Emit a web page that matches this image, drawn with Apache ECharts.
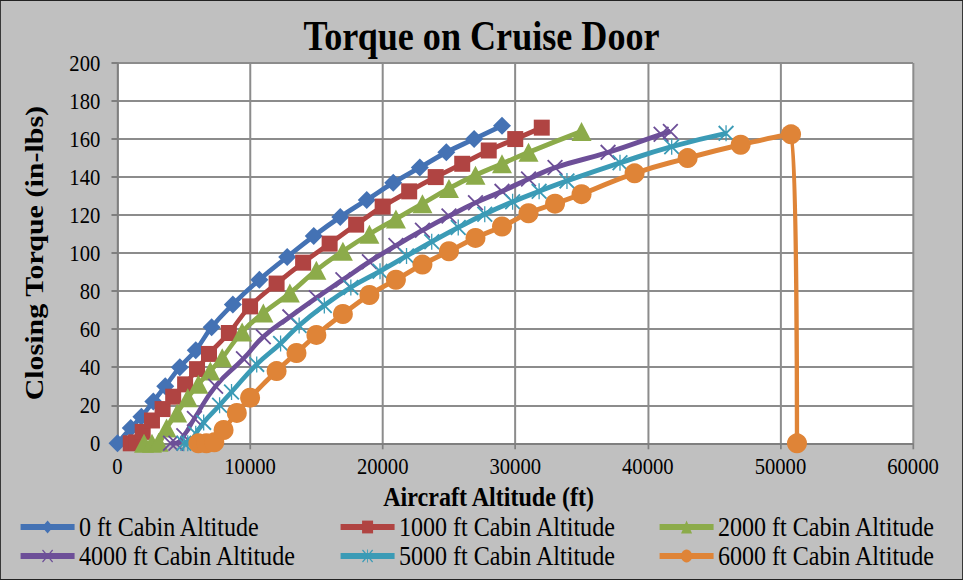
<!DOCTYPE html>
<html>
<head>
<meta charset="utf-8">
<script src="https://cdn.jsdelivr.net/npm/echarts@6/dist/echarts.min.js"></script>
<style>
  html, body { margin: 0; padding: 0; background: #c0c0c0; }
  #wrap { width: 963px; height: 580px; overflow: hidden; position: relative; }
  #chart { height: 580px; transform-origin: 0 0; }
</style>
</head>
<body>
<div id="wrap"><div id="chart"></div></div>
<script>
// Horizontal squeeze applied to the whole drawing (narrow serif lettering)
const S = 0.86;
const W = 963 / S;

// Aircraft altitude (ft) and closing torque (in-lbs) per cabin altitude
const alt0 = [0, 1000, 1800, 2700, 3600, 4700, 5900, 7100, 8700, 10700, 12800, 14800, 16800, 18800, 20800, 22800, 24800, 26900, 29000];
const tq0  = [0, 8, 14, 22, 30, 40, 49, 61, 73, 86, 98, 109, 119, 128, 137, 145, 153, 160, 167];

const alt1 = [1000, 1400, 1900, 2600, 3400, 4200, 5100, 6000, 6900, 8400, 10000, 12000, 14000, 16000, 18000, 20000, 22000, 24000, 26000, 28000, 30000, 32000];
const tq1  = [0, 0.5, 6, 12, 18, 24.5, 31, 39, 47, 58, 72, 84, 95, 105, 115, 124.5, 132.5, 140, 147, 154, 160, 166];

const alt2 = [2000, 2600, 3100, 3700, 4500, 5300, 6100, 7000, 7900, 9400, 11000, 13000, 15000, 17000, 19000, 21000, 23000, 25000, 27000, 29000, 31000, 35000];
const tq2  = [0, 0, 0.5, 8, 16, 24, 31, 38, 45, 58.5, 68.5, 79, 91, 101, 110, 118, 126, 134, 141, 147, 153, 164];

const alt3 = [4000, 4400, 5000, 5800, 7400, 9500, 11000, 13000, 15000, 17000, 19000, 21000, 23000, 25000, 27000, 29000, 31000, 33000, 37000, 41000, 41700];
const tq3  = [0, 0, 4, 13, 30, 44.5, 56, 66.5, 76.5, 86, 95.5, 104, 112, 119.5, 126.5, 132.5, 139, 145, 153, 162.5, 164];

const alt4 = [5000, 5300, 5900, 6500, 7700, 8600, 10500, 12300, 13700, 15600, 17600, 19800, 21800, 23700, 25700, 27700, 29800, 31800, 33900, 37900, 41800, 45900];
const tq4  = [0, 0, 5, 11, 20, 27, 41.5, 52.5, 62, 72.5, 82, 90.5, 98.5, 106, 113.5, 120.5, 127, 132.5, 138, 147.5, 156, 163];

const alt5 = [6100, 6700, 7300, 8000, 9000, 10000, 12000, 13500, 15000, 17000, 19000, 21000, 23000, 25000, 27000, 29000, 31000, 33000, 35000, 39000, 43000, 47000, 50800, 51250];
const tq5  = [0, 0, 0.5, 7, 16, 24, 38, 47.5, 57, 68, 78, 86, 94, 101, 108, 114, 121, 126, 131, 142, 150, 157, 162.5, 0];

const seriesNames = ['0 ft Cabin Altitude', '1000 ft Cabin Altitude', '2000 ft Cabin Altitude',
                     '4000 ft Cabin Altitude', '5000 ft Cabin Altitude', '6000 ft Cabin Altitude'];

const xTicks = { min: 0, max: 60000, step: 10000 };
const yTicks = { min: 0, max: 200, step: 20 };

const FONT = '"Liberation Serif", "Times New Roman", serif';
const X_PATH = 'path://M0,8L8,0L100,92L92,100Z M92,0L100,8L8,100L0,92Z';
const AST_PATH = 'path://M0,8L8,0L100,92L92,100Z M92,0L100,8L8,100L0,92Z M46,0L54,0L54,100L46,100Z';

const looks = [
  { color: '#4472b4', symbol: 'diamond',  size: [18, 18] },
  { color: '#b04442', symbol: 'rect',     size: [16, 16] },
  { color: '#8cab4a', symbol: 'triangle', size: [20, 19] },
  { color: '#6d4f98', symbol: X_PATH,     size: [16, 16] },
  { color: '#3b9bb6', symbol: AST_PATH,   size: [16, 16] },
  { color: '#df8437', symbol: 'circle',   size: [20, 20] }
];

const alts = [alt0, alt1, alt2, alt3, alt4, alt5];
const tqs = [tq0, tq1, tq2, tq3, tq4, tq5];

const chartEl = document.getElementById('chart');
chartEl.style.width = W + 'px';
chartEl.style.transform = 'scaleX(' + S + ')';

const series = seriesNames.map((name, i) => ({
  type: 'line',
  name: name,
  data: alts[i].map((a, k) => [a, tqs[i][k]]),
  smooth: 0.5,
  showSymbol: true,
  symbol: looks[i].symbol,
  symbolSize: [looks[i].size[0] / S, looks[i].size[1]],
  lineStyle: { width: 5, color: looks[i].color },
  itemStyle: { color: looks[i].color, borderWidth: 0 },
  emphasis: { disabled: true },
  animation: false
}));

// legend: three columns, two rows
const colLeft = [18, 338, 657];
const rowMid = [527, 556];
const legends = seriesNames.map((name, i) => ({
  data: [name],
  left: colLeft[i % 3] / S,
  top: rowMid[Math.floor(i / 3)] - 14,
  orient: 'horizontal',
  padding: 0,
  itemWidth: 54 / S,
  itemHeight: 16,
  selectedMode: false,
  lineStyle: { width: 6 },
  textStyle: { fontFamily: FONT, fontSize: 28, lineHeight: 28, color: '#000' }
}));

const axisLineStyle = { color: '#7f7f7f', width: 2 };

const option = {
  backgroundColor: '#c0c0c0',
  animation: false,
  title: {
    text: 'Torque on Cruise Door',
    left: 'center',
    top: 10,
    textStyle: { fontFamily: FONT, fontSize: 42, fontWeight: 'bold', color: '#000' }
  },
  legend: legends,
  grid: {
    left: 117.5 / S,
    right: (963 - 913) / S,
    top: 63,
    bottom: 580 - 443.3,
    show: true,
    backgroundColor: '#ffffff',
    borderWidth: 0
  },
  xAxis: {
    type: 'value',
    min: xTicks.min, max: xTicks.max, interval: xTicks.step,
    name: 'Aircraft Altitude (ft)',
    nameLocation: 'middle',
    nameGap: 37,
    nameTextStyle: { fontFamily: FONT, fontSize: 28, lineHeight: 28, fontWeight: 'bold', color: '#000', padding: [0, 62, 0, 0] },
    axisLine: { show: true, lineStyle: axisLineStyle },
    axisTick: { show: true, length: 6, lineStyle: axisLineStyle },
    axisLabel: { fontFamily: FONT, fontSize: 24, color: '#000', margin: 11, formatter: v => String(v) },
    splitLine: { show: true, lineStyle: { color: '#8c8c8c', width: 2 / S } }
  },
  yAxis: {
    type: 'value',
    min: yTicks.min, max: yTicks.max, interval: yTicks.step,
    name: 'Closing Torque (in-lbs)',
    nameLocation: 'middle',
    nameRotate: 90,
    nameGap: 82,
    nameTextStyle: { fontFamily: FONT, fontSize: 30, fontWeight: 'bold', color: '#000' },
    axisLine: { show: true, lineStyle: axisLineStyle },
    axisTick: { show: true, length: 7, lineStyle: axisLineStyle },
    axisLabel: { fontFamily: FONT, fontSize: 24, color: '#000', margin: 20 },
    splitLine: { show: true, lineStyle: { color: '#8c8c8c', width: 2 } }
  },
  graphic: [{
    type: 'rect',
    shape: { x: 0, y: 0, width: W, height: 580 },
    style: { fill: 'none', stroke: '#222', lineWidth: 2 },
    silent: true,
    z: 100
  }],
  series: series
};

const chart = echarts.init(chartEl, null, { renderer: 'svg', width: W, height: 580 });
chart.setOption(option);
</script>
</body>
</html>
